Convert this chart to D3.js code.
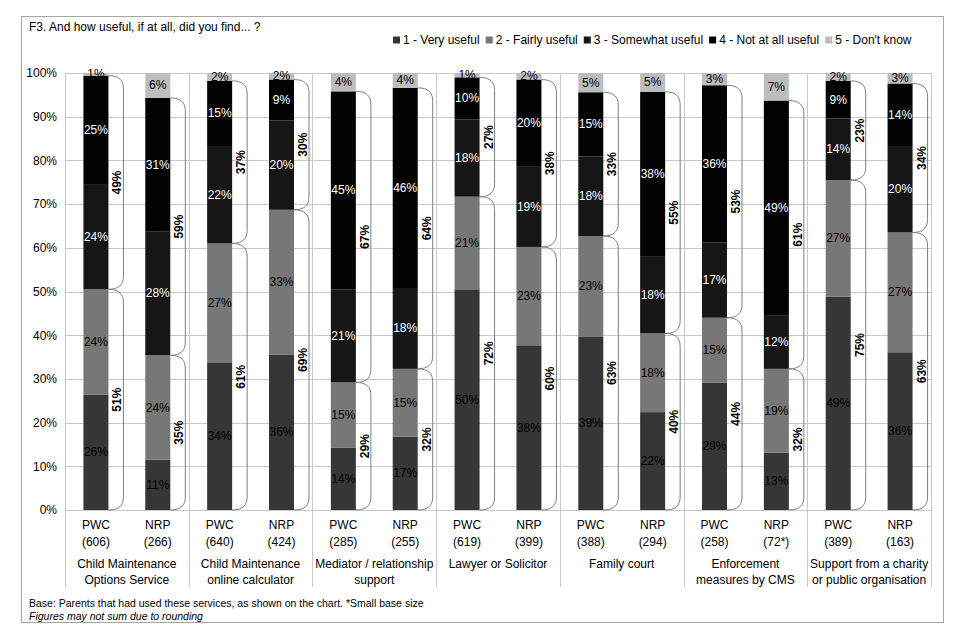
<!DOCTYPE html>
<html>
<head>
<meta charset="utf-8">
<script src="https://cdn.jsdelivr.net/npm/d3@7/dist/d3.min.js"></script>
<style>
  html, body { margin: 0; padding: 0; background: #fff; }
  svg { display: block; font-family: "Liberation Sans", Arial, sans-serif; }
</style>
</head>
<body>
<svg id="chart" width="960" height="640"></svg>
<script>
// ---------- DATA ----------
const categories = [
  ["Child Maintenance", "Options Service"],
  ["Child Maintenance", "online calculator"],
  ["Mediator / relationship", "support"],
  ["Lawyer or Solicitor"],
  ["Family court"],
  ["Enforcement", "measures by CMS"],
  ["Support from a charity", "or public organisation"]
];
const parentTypes = ["PWC", "NRP"];
const bases = ["(606)", "(266)", "(640)", "(424)", "(285)", "(255)", "(619)", "(399)",
               "(388)", "(294)", "(258)", "(72*)", "(389)", "(163)"];

const seriesNames = ["1 - Very useful", "2 - Fairly useful", "3 - Somewhat useful",
                     "4 - Not at all useful", "5 - Don't know"];

// bar heights (%)
const veryUseful     = [26.4, 11.5, 33.8, 35.6, 14.3, 16.8, 50.5, 37.7, 39.6, 22.4, 29.1, 13.1, 48.8, 36.1];
const fairlyUseful   = [24.1, 23.9, 27.2, 33.1, 14.9, 15.5, 21.2, 22.5, 23.1, 18.0, 14.9, 19.2, 26.7, 27.4];
const somewhatUseful = [23.9, 28.4, 22.3, 20.4, 21.3, 18.5, 17.7, 18.5, 18.2, 17.7, 17.2, 12.3, 14.1, 19.8];
const notAtAllUseful = [25.0, 30.5, 14.9,  9.4, 45.3, 45.8,  9.6, 19.8, 14.7, 37.6, 36.0, 49.1,  8.6, 14.3];
const dontKnow       = [ 0.6,  5.7,  1.8,  1.5,  4.2,  3.4,  1.0,  1.5,  4.4,  4.3,  2.8,  6.3,  1.8,  2.4];

// printed data labels (%)
const veryLabels     = [26, 11, 34, 36, 14, 17, 50, 38, 39, 22, 29, 13, 49, 36];
const fairlyLabels   = [24, 24, 27, 33, 15, 15, 21, 23, 23, 18, 15, 19, 27, 27];
const somewhatLabels = [24, 28, 22, 20, 21, 18, 18, 19, 18, 18, 17, 12, 14, 20];
const notAtAllLabels = [25, 31, 15,  9, 45, 46, 10, 20, 15, 38, 36, 49,  9, 14];
const dontKnowLabels = [ 1,  6,  2,  2,  4,  4,  1,  2,  5,  5,  3,  7,  2,  3];

// net brace labels (%)
const usefulNet    = [51, 35, 61, 69, 29, 32, 72, 60, 63, 40, 44, 32, 75, 63];
const notUsefulNet = [49, 59, 37, 30, 67, 64, 27, 38, 33, 55, 53, 61, 23, 34];

const yTicks = [0, 10, 20, 30, 40, 50, 60, 70, 80, 90, 100];

// ---------- STYLE ----------
const colors = ["#363636", "#777777", "#161616", "#030303", "#bdbdbd"];
const labelColors = ["#000", "#000", "#fff", "#fff", "#000"];
const gridColor = "#c8c8c8";

const svg = d3.select("#chart");

// frame
svg.append("rect").attr("x", 21.5).attr("y", 16.5).attr("width", 922).attr("height", 606)
  .attr("fill", "#fff").attr("stroke", "#a6a6a6").attr("stroke-width", 1);

// title
svg.append("text").attr("x", 29).attr("y", 31).attr("font-size", 12).attr("fill", "#000")
  .text("F3. And how useful, if at all, did you find... ?");

// scales
const plotLeft = 65, plotRight = 931, plotTop = 73, plotBottom = 510;
const x = d3.scaleBand().domain(d3.range(categories.length)).range([plotLeft, plotRight]).padding(0);
const xInner = d3.scalePoint().domain(parentTypes).range([0, x.bandwidth()]).padding(0.5);
const y = d3.scaleLinear().domain([0, 100]).range([plotBottom, plotTop]);
const barW = 25;

// grid
const g = svg.append("g");
g.selectAll("line.h").data(yTicks).join("line")
  .attr("x1", plotLeft).attr("x2", plotRight)
  .attr("y1", d => Math.round(y(d)) + 0.5).attr("y2", d => Math.round(y(d)) + 0.5)
  .attr("stroke", gridColor).attr("stroke-width", 1);
const sepX = [plotLeft].concat(d3.range(categories.length).map(i => x(i) + x.bandwidth()));
g.selectAll("line.v").data(sepX).join("line")
  .attr("x1", d => Math.round(d) + 0.5).attr("x2", d => Math.round(d) + 0.5)
  .attr("y1", plotTop).attr("y2", 587)
  .attr("stroke", gridColor).attr("stroke-width", 1);

// y axis labels
const yAxis = d3.axisLeft(y).tickValues(yTicks).tickFormat(d => d + "%").tickSize(0).tickPadding(8);
const ya = svg.append("g").attr("transform", `translate(${plotLeft},0)`).call(yAxis);
ya.select(".domain").remove();
ya.selectAll("text").attr("font-size", 12).attr("fill", "#000")
  .attr("font-family", "'Liberation Sans', Arial, sans-serif");

// bars
const series = [veryUseful, fairlyUseful, somewhatUseful, notAtAllUseful, dontKnow];
const labels = [veryLabels, fairlyLabels, somewhatLabels, notAtAllLabels, dontKnowLabels];

const bars = [];
for (let i = 0; i < bases.length; i++) {
  const gi = Math.floor(i / 2), pt = parentTypes[i % 2];
  const cx = x(gi) + xInner(pt);
  let acc = 0;
  const segs = series.map((s, k) => {
    const y0 = acc; acc += s[i];
    return { k, y0, y1: acc, label: labels[k][i] };
  });
  bars.push({ i, gi, pt, cx, segs });
}

const barG = svg.append("g");
bars.forEach(b => {
  barG.selectAll(null).data(b.segs).join("rect")
    .attr("x", b.cx - barW / 2).attr("width", barW)
    .attr("y", d => y(d.y1)).attr("height", d => y(d.y0) - y(d.y1))
    .attr("fill", d => colors[d.k]);
});

// braces
const braceG = svg.append("g");
function bracePath(x0, yTop, yBot) {
  const w = 15;
  const r = Math.min(13, (yBot - yTop) / 2);
  return `M${x0},${yTop} C${x0 + w * 0.7},${yTop} ${x0 + w},${yTop + r * 0.35} ${x0 + w},${yTop + r}` +
         ` L${x0 + w},${yBot - r}` +
         ` C${x0 + w},${yBot - r * 0.35} ${x0 + w * 0.7},${yBot} ${x0},${yBot}`;
}
bars.forEach(b => {
  const xr = b.cx + barW / 2;
  const split = b.segs[1].y1, top = b.segs[3].y1;
  braceG.append("path").attr("d", bracePath(xr, y(split), y(0)))
    .attr("fill", "none").attr("stroke", "#7f7f7f").attr("stroke-width", 1);
  braceG.append("path").attr("d", bracePath(xr, y(top), y(split)))
    .attr("fill", "none").attr("stroke", "#7f7f7f").attr("stroke-width", 1);
  const nets = [[usefulNet[b.i], (y(split) + y(0)) / 2], [notUsefulNet[b.i], (y(top) + y(split)) / 2]];
  nets.forEach(([v, yc]) => {
    braceG.append("text")
      .attr("transform", `translate(${xr + 9},${yc}) rotate(-90)`)
      .attr("text-anchor", "middle").attr("dominant-baseline", "central")
      .attr("font-size", 12).attr("font-weight", "bold").attr("fill", "#000")
      .text(v + "%");
  });
});

// data labels
const lblG = svg.append("g");
bars.forEach(b => {
  lblG.selectAll(null).data(b.segs).join("text")
    .attr("x", b.cx).attr("y", d => (y(d.y0) + y(d.y1)) / 2)
    .attr("text-anchor", "middle").attr("dominant-baseline", "central")
    .attr("font-size", 12).attr("fill", d => labelColors[d.k])
    .text(d => d.label + "%");
});

// x labels
const xl = svg.append("g").attr("font-size", 12).attr("fill", "#000").attr("text-anchor", "middle");
bars.forEach(b => {
  xl.append("text").attr("x", b.cx).attr("y", 529).text(b.pt);
  xl.append("text").attr("x", b.cx).attr("y", 546).text(bases[b.i]);
});
categories.forEach((lines, gi) => {
  const cx = x(gi) + x.bandwidth() / 2;
  lines.forEach((ln, j) => {
    xl.append("text").attr("x", cx).attr("y", 568 + j * 16).text(ln);
  });
});

// legend
const leg = svg.append("g").attr("transform", "translate(0,40)");
let lx = 393;
seriesNames.forEach((name, k) => {
  leg.append("rect").attr("x", lx).attr("y", -3.5).attr("width", 7).attr("height", 7).attr("fill", colors[k]);
  const t = leg.append("text").attr("x", lx + 10).attr("y", 0).attr("dominant-baseline", "central")
    .attr("font-size", 12).attr("fill", "#000").text(name);
  lx += 10 + t.node().getComputedTextLength() + 6;
});

// footnotes
svg.append("text").attr("x", 29).attr("y", 607).attr("font-size", 10.5).attr("fill", "#000")
  .text("Base: Parents that had used these services, as shown on the chart. *Small base size");
svg.append("text").attr("x", 29).attr("y", 620).attr("font-size", 10.5).attr("font-style", "italic").attr("fill", "#000")
  .text("Figures may not sum due to rounding");
</script>
</body>
</html>
